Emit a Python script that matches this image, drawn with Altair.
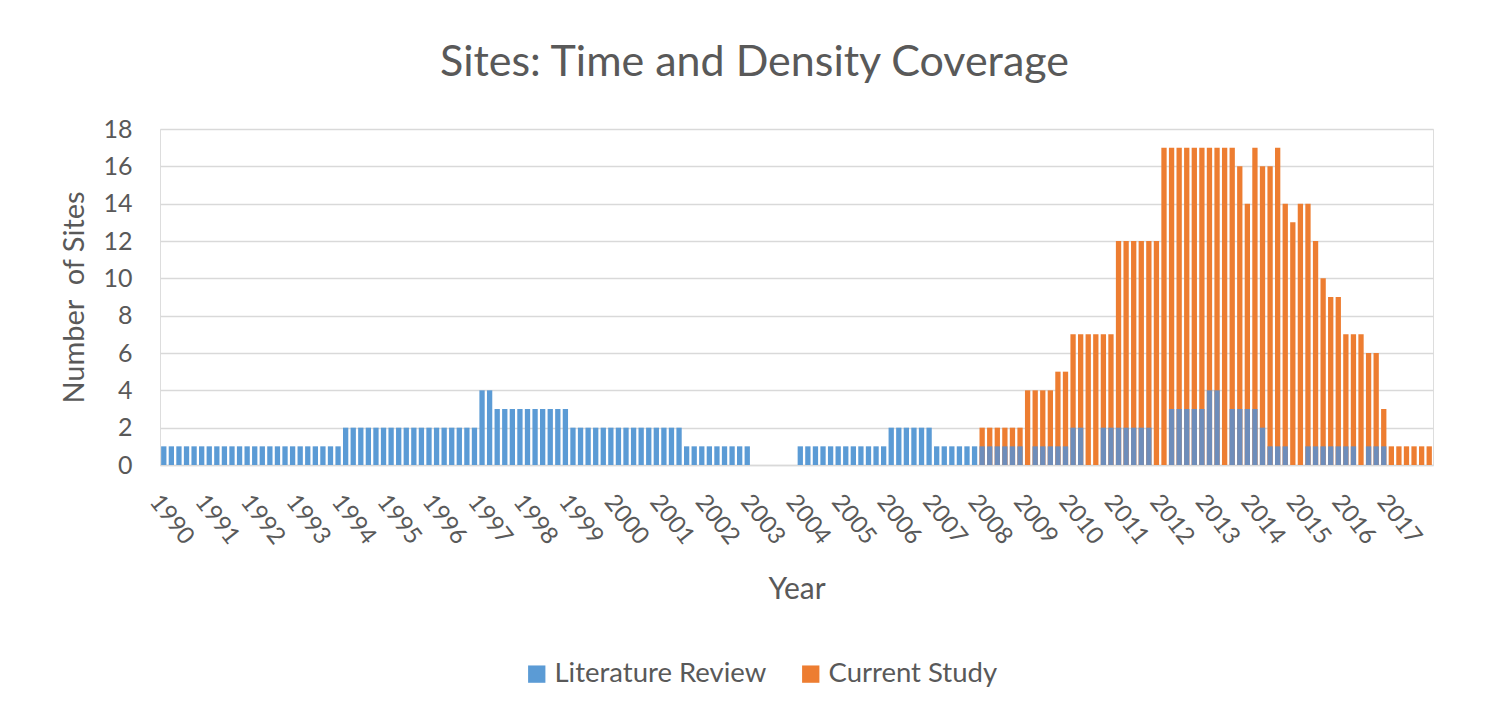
import altair as alt
import pandas as pd

# ---- data (6 bars per year, 1990-2017) ----
years = ["1990", "1991", "1992", "1993", "1994", "1995", "1996", "1997",
         "1998", "1999", "2000", "2001", "2002", "2003", "2004", "2005",
         "2006", "2007", "2008", "2009", "2010", "2011", "2012", "2013",
         "2014", "2015", "2016", "2017"]
bars_per_year = 6
series_names = ["Literature Review", "Current Study"]

literature_review = [
    1, 1, 1, 1, 1, 1,   # 1990
    1, 1, 1, 1, 1, 1,   # 1991
    1, 1, 1, 1, 1, 1,   # 1992
    1, 1, 1, 1, 1, 1,   # 1993
    2, 2, 2, 2, 2, 2,   # 1994
    2, 2, 2, 2, 2, 2,   # 1995
    2, 2, 2, 2, 2, 2,   # 1996
    4, 4, 3, 3, 3, 3,   # 1997
    3, 3, 3, 3, 3, 3,   # 1998
    2, 2, 2, 2, 2, 2,   # 1999
    2, 2, 2, 2, 2, 2,   # 2000
    2, 2, 2, 1, 1, 1,   # 2001
    1, 1, 1, 1, 1, 1,   # 2002
    0, 0, 0, 0, 0, 0,   # 2003
    1, 1, 1, 1, 1, 1,   # 2004
    1, 1, 1, 1, 1, 1,   # 2005
    2, 2, 2, 2, 2, 2,   # 2006
    1, 1, 1, 1, 1, 1,   # 2007
    1, 1, 1, 1, 1, 1,   # 2008
    0, 1, 1, 1, 1, 1,   # 2009
    2, 2, 0, 0, 2, 2,   # 2010
    2, 2, 2, 2, 2, 0,   # 2011
    0, 3, 3, 3, 3, 3,   # 2012
    4, 4, 0, 3, 3, 3,   # 2013
    3, 2, 1, 1, 1, 0,   # 2014
    0, 1, 1, 1, 1, 1,   # 2015
    1, 1, 0, 1, 1, 1,   # 2016
    0, 0, 0, 0, 0, 0,   # 2017
]

current_study = [
    0, 0, 0, 0, 0, 0,   # 1990
    0, 0, 0, 0, 0, 0,   # 1991
    0, 0, 0, 0, 0, 0,   # 1992
    0, 0, 0, 0, 0, 0,   # 1993
    0, 0, 0, 0, 0, 0,   # 1994
    0, 0, 0, 0, 0, 0,   # 1995
    0, 0, 0, 0, 0, 0,   # 1996
    0, 0, 0, 0, 0, 0,   # 1997
    0, 0, 0, 0, 0, 0,   # 1998
    0, 0, 0, 0, 0, 0,   # 1999
    0, 0, 0, 0, 0, 0,   # 2000
    0, 0, 0, 0, 0, 0,   # 2001
    0, 0, 0, 0, 0, 0,   # 2002
    0, 0, 0, 0, 0, 0,   # 2003
    0, 0, 0, 0, 0, 0,   # 2004
    0, 0, 0, 0, 0, 0,   # 2005
    0, 0, 0, 0, 0, 0,   # 2006
    0, 0, 0, 0, 0, 0,   # 2007
    2, 2, 2, 2, 2, 2,   # 2008
    4, 4, 4, 4, 5, 5,   # 2009
    7, 7, 7, 7, 7, 7,   # 2010
    12, 12, 12, 12, 12, 12,  # 2011
    17, 17, 17, 17, 17, 17,  # 2012
    17, 17, 17, 17, 16, 14,  # 2013
    17, 16, 16, 17, 14, 13,  # 2014
    14, 14, 12, 10, 9, 9,    # 2015
    7, 7, 7, 6, 6, 3,        # 2016
    1, 1, 1, 1, 1, 1,        # 2017
]

y_ticks = [0, 2, 4, 6, 8, 10, 12, 14, 16, 18]

# ---- build long table ----
periods = []
rows = []
for yi, yr in enumerate(years):
    for k in range(bars_per_year):
        idx = yi * bars_per_year + k
        p = f"{yr}|{k + 1}"
        periods.append(p)
        lr = literature_review[idx]
        cs = current_study[idx]
        rows.append({"period": p, "series": "Literature Review", "value": lr, "other": cs})
        rows.append({"period": p, "series": "Current Study", "value": cs, "other": lr})
df = pd.DataFrame(rows)

BLUE = "#5B9BD5"
ORANGE = "#ED7D31"
OVERLAP = "#6E8DBA"
GRID = "#D9D9D9"
TXT = "#595959"
FONT = "Lato"

x_enc = alt.X(
    "period:N",
    scale=alt.Scale(domain=periods, paddingInner=0.3, paddingOuter=0.15),
    axis=alt.Axis(
        title="Year", titleFontSize=30, titleFont=FONT, titleColor=TXT,
        titleFontWeight="normal", titleY=124, titleBaseline="middle",
        labelExpr="split(datum.value, '|')[1] == '1' ? split(datum.value, '|')[0] : ''",
        labelAngle=52, labelAlign="left", labelBaseline="top", labelPadding=25,
        labelFontSize=24, labelFont=FONT, labelColor=TXT, labelOverlap=False,
        ticks=False, grid=False, domainColor=GRID, domainWidth=1.5,
    ),
)
y_enc = alt.Y(
    "value:Q", scale=alt.Scale(domain=[0, 18], nice=False),
    axis=alt.Axis(
        title="Number\u00a0 of Sites", titleFontSize=29, titleFont=FONT, titleColor=TXT,
        titleFontWeight="normal", titlePadding=13,
        values=y_ticks, labelFontSize=25, labelFont=FONT, labelColor=TXT,
        labelPadding=28, ticks=False, domain=False, grid=True,
        gridColor=GRID, gridWidth=1.5,
    ),
)
color_enc = alt.Color(
    "series:N",
    scale=alt.Scale(domain=series_names, range=[BLUE, ORANGE]),
    legend=alt.Legend(
        title=None, orient="none", legendX=363, legendY=531, direction="horizontal",
        symbolType="square", symbolSize=300, symbolStrokeWidth=0,
        labelFontSize=27.5, labelFont=FONT, labelColor=TXT, columnPadding=30,
        labelOffset=4, labelLimit=0,
    ),
)

base = alt.Chart(df)
orange_layer = base.transform_filter(
    (alt.datum.series == "Current Study") & (alt.datum.value > 0)
).mark_bar().encode(x=x_enc, y=y_enc, color=color_enc)
blue_layer = base.transform_filter(
    (alt.datum.series == "Literature Review") & (alt.datum.value > 0) & (alt.datum.other == 0)
).mark_bar().encode(x=x_enc, y=y_enc, color=color_enc)
overlap_layer = base.transform_filter(
    (alt.datum.series == "Literature Review") & (alt.datum.value > 0) & (alt.datum.other > 0)
).mark_bar(color=OVERLAP).encode(x=x_enc, y=y_enc)

chart = alt.layer(orange_layer, blue_layer, overlap_layer).properties(
    width=1273, height=336,
    title=alt.TitleParams(
        "Sites: Time and Density Coverage", fontSize=43, font=FONT, color=TXT,
        fontWeight="normal", anchor="middle", dx=-42, offset=32,
    ),
    padding={"left": 152, "top": 121, "right": 40, "bottom": 230},
    autosize=alt.AutoSizeParams(type="none"),
).configure_view(stroke=None).configure(background="white")

chart.save("out.html", embed_options={"renderer": "svg", "actions": False})
